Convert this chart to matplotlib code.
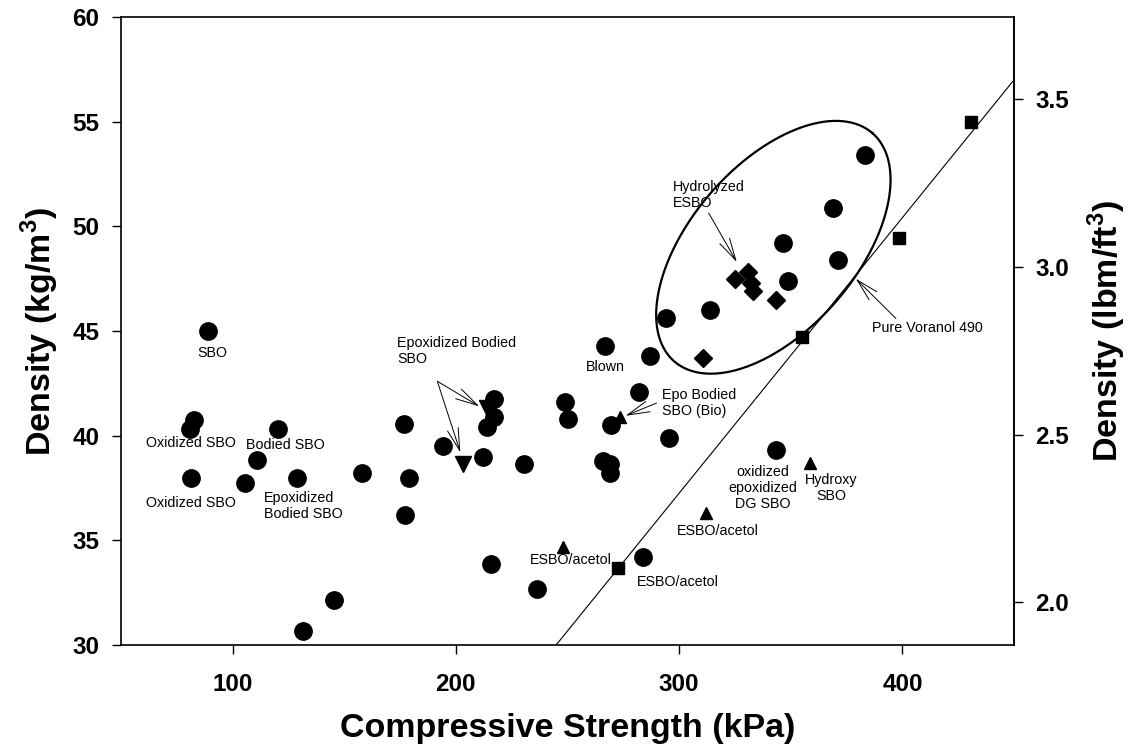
import numpy as np
import matplotlib
matplotlib.use("Agg")
import matplotlib.pyplot as plt

plt.rcParams['font.family'] = ['Liberation Sans', 'DejaVu Sans']
plt.rcParams['mathtext.fontset'] = 'custom'
plt.rcParams['mathtext.rm'] = 'Liberation Sans'
plt.rcParams['mathtext.bf'] = 'Liberation Sans:bold'

# data (compressive strength kPa, density kg/m3)
circle_x = [89.0, 82.7, 81.0, 81.4, 105.6, 111.0, 120.4, 128.9, 158.1, 176.9,
            178.9, 177.0, 194.1, 216.9, 217.3, 213.8, 212.0, 230.3, 248.7, 250.4,
            266.6, 287.1, 281.8, 269.7, 295.6, 265.7, 269.2, 269.2, 215.9, 236.5,
            283.6, 145.5, 131.6, 383.3, 369.0, 346.6, 371.3, 348.9, 314.0, 294.3,
            343.5]
circle_y = [45.0, 40.75, 40.3, 38.0, 37.75, 38.85, 40.3, 38.0, 38.2, 40.55,
            38.0, 36.2, 39.5, 41.75, 40.9, 40.4, 39.0, 38.65, 41.6, 40.8,
            44.3, 43.8, 42.1, 40.5, 39.9, 38.8, 38.65, 38.2, 33.87, 32.68,
            34.2, 32.15, 30.67, 53.4, 50.9, 49.2, 48.4, 47.4, 46.0, 45.6,
            39.3]

diamond_x = [325.2, 331.0, 332.3, 333.2, 343.5, 310.9]
diamond_y = [47.5, 47.8, 47.3, 46.9, 46.5, 43.7]

square_x = [272.4, 354.9, 398.4, 430.5]
square_y = [33.7, 44.7, 49.45, 55.0]

tri_up_x = [247.8, 273.3, 311.9, 358.5]
tri_up_y = [34.7, 40.9, 36.3, 38.7]

tri_down_x = [203.0, 214.0]
tri_down_y = [38.65, 41.3]

# Pure Voranol 490 line
voranol_x = [244.9, 450.0]
voranol_y = [30.0, 57.0]

# ellipse around the hydrolyzed ESBO group (centre and conjugate half axes, data units)
ell_center = (342.2, 49.0)
ell_u = (44.4, 5.45)
ell_v = (28.0, -2.6)

LB_PER_KG = 1 / 16.0185

fig = plt.figure(figsize=(11.39, 7.53), dpi=100)
ax = fig.add_axes([0.1062, 0.1434, 0.7841, 0.834])

ax.plot(voranol_x, voranol_y, color='black', lw=0.8, zorder=2)

t = np.linspace(0, 2 * np.pi, 400)
ex = ell_center[0] + ell_u[0] * np.cos(t) + ell_v[0] * np.sin(t)
ey = ell_center[1] + ell_u[1] * np.cos(t) + ell_v[1] * np.sin(t)
ax.plot(ex, ey, color='black', lw=1.6, zorder=2)

ax.plot(tri_down_x, tri_down_y, 'v', color='black', ms=11, zorder=3)
ax.plot(tri_up_x, tri_up_y, '^', color='black', ms=9, zorder=3)
ax.plot(square_x, square_y, 's', color='black', ms=8, zorder=3)
ax.plot(diamond_x, diamond_y, 'D', color='black', ms=9.5, zorder=3)
ax.plot(circle_x, circle_y, 'o', color='black', ms=12.5, zorder=4)

fs = 10.3
ax.text(90.8, 43.95, 'SBO', fontsize=fs, ha='center', va='center')
ax.text(81.4, 39.65, 'Oxidized SBO', fontsize=fs, ha='center', va='center')
ax.text(123.5, 39.55, 'Bodied SBO', fontsize=fs, ha='center', va='center')
ax.text(81.4, 36.8, 'Oxidized SBO', fontsize=fs, ha='center', va='center')
ax.text(114.1, 36.65, 'Epoxidized\nBodied SBO', fontsize=fs, ha='left', va='center')
ax.text(173.8, 44.05, 'Epoxidized Bodied\nSBO', fontsize=fs, ha='left', va='center')
ax.text(267.0, 43.3, 'Blown', fontsize=fs, ha='center', va='center')
ax.text(292.2, 41.56, 'Epo Bodied\nSBO (Bio)', fontsize=fs, ha='left', va='center')
ax.text(297.1, 51.5, 'Hydrolyzed\nESBO', fontsize=fs, ha='left', va='center')
ax.text(411.4, 45.15, 'Pure Voranol 490', fontsize=fs, ha='center', va='center')
ax.text(337.4, 37.5, 'oxidized\nepoxidized\nDG SBO', fontsize=fs, ha='center',
        va='center', multialignment='center')
ax.text(368.1, 37.5, 'Hydroxy\nSBO', fontsize=fs, ha='center', va='center',
        multialignment='center')
ax.text(317.3, 35.45, 'ESBO/acetol', fontsize=fs, ha='center', va='center')
ax.text(299.3, 33.0, 'ESBO/acetol', fontsize=fs, ha='center', va='center')
ax.text(251.3, 34.06, 'ESBO/acetol', fontsize=fs, ha='center', va='center')

arrow = dict(arrowstyle='->,head_length=1.6,head_width=0.4', color='black',
             lw=0.7, shrinkA=0, shrinkB=0)
arrows = [((191.7, 42.6), (210.5, 41.4)),
          ((191.7, 42.6), (202.0, 39.2)),
          ((289.9, 41.56), (276.0, 40.95)),
          ((313.2, 50.64), (325.8, 48.3)),
          ((397.1, 45.6), (379.1, 47.5))]
for tail, tip in arrows:
    ax.annotate('', xy=tip, xytext=tail, arrowprops=arrow, zorder=5)

ax.set_xlim(50, 450)
ax.set_ylim(30, 60)
ax.set_xticks([100, 200, 300, 400])
ax.set_yticks([30, 35, 40, 45, 50, 55, 60])
ax.tick_params(direction='out', length=6.5, width=1, labelsize=17.5)
ax.tick_params(axis='x', pad=14)
ax.tick_params(axis='y', pad=9)
ax.tick_params(top=False)
for lab in ax.get_xticklabels() + ax.get_yticklabels():
    lab.set_fontweight('bold')
for sp in ax.spines.values():
    sp.set_linewidth(1.2)

ax.set_xlabel('Compressive Strength (kPa)', fontsize=24.5, fontweight='bold', labelpad=12)
ax.set_ylabel(r'Density (kg/m$^\mathbf{3}$)', fontsize=24.5, fontweight='bold', labelpad=8)

sec = ax.secondary_yaxis('right', functions=(lambda v: v * LB_PER_KG,
                                             lambda v: v / LB_PER_KG))
sec.set_yticks([2.0, 2.5, 3.0, 3.5])
sec.set_yticklabels(['2.0', '2.5', '3.0', '3.5'])
sec.tick_params(direction='out', length=6.5, width=1, labelsize=17.5, pad=9)
for lab in sec.get_yticklabels():
    lab.set_fontweight('bold')
sec.spines['right'].set_linewidth(1.2)
sec.set_ylabel(r'Density (lbm/ft$^\mathbf{3}$)', fontsize=24.5, fontweight='bold', labelpad=12)

fig.savefig('out.png', dpi=100)
